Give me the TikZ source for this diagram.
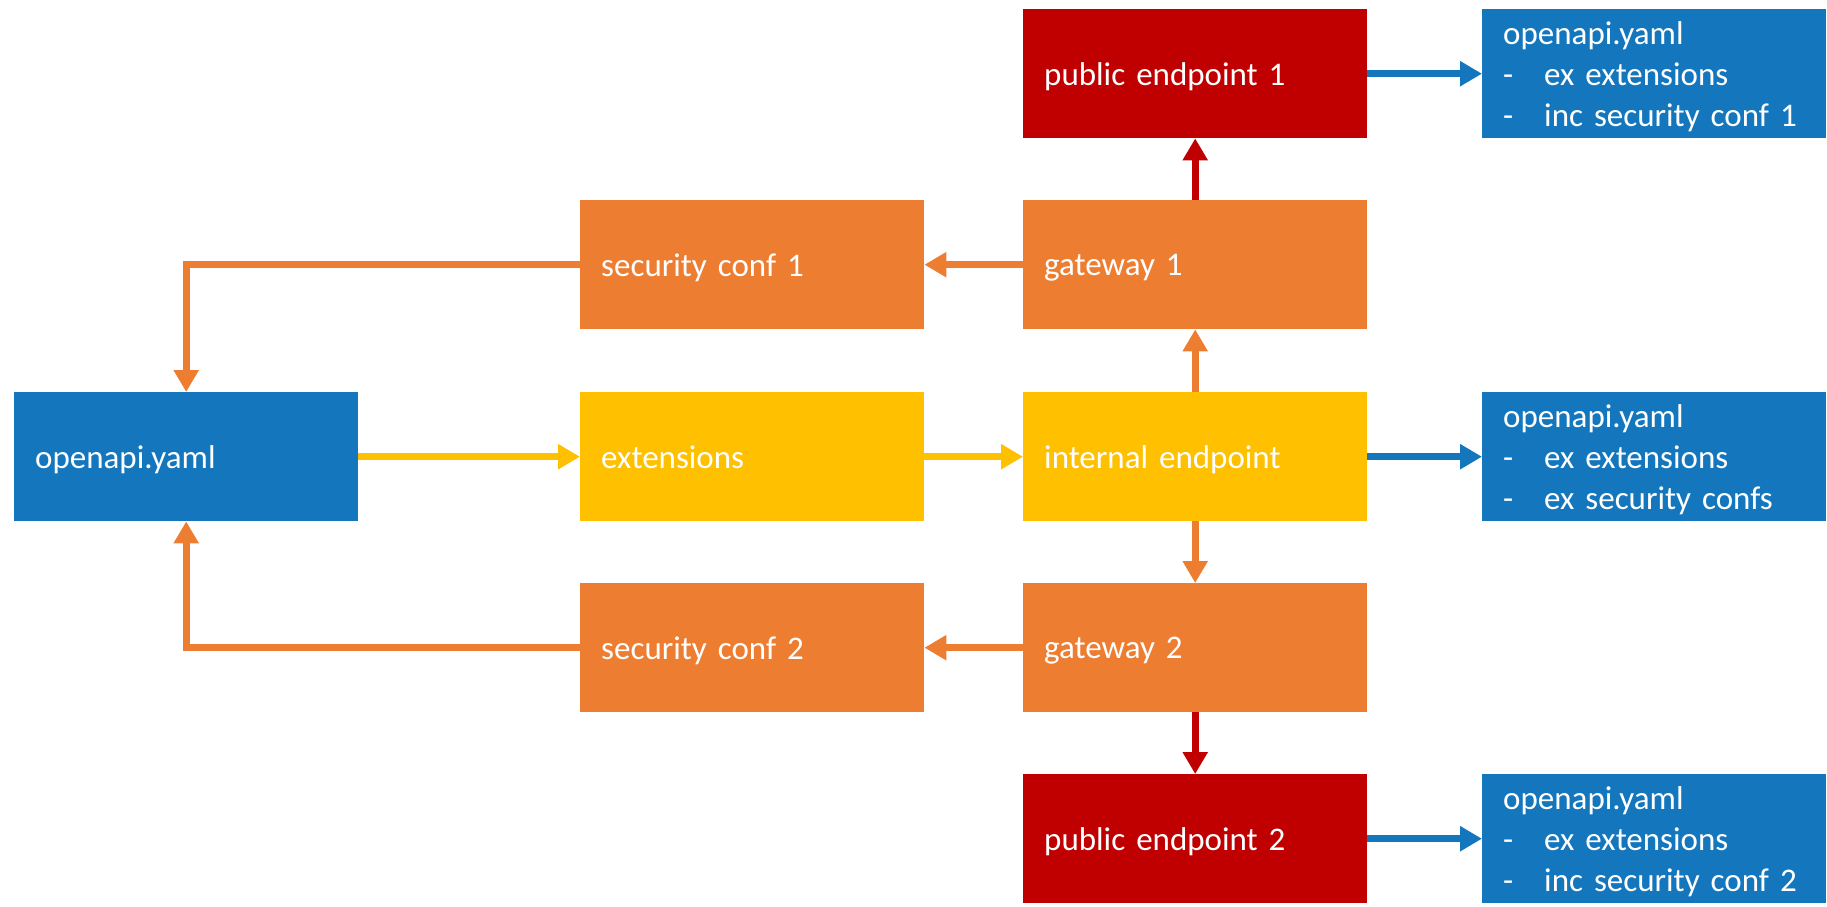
\documentclass[tikz,border=0pt]{standalone}
\usepackage{fontspec}
\setmainfont{Carlito}
\usetikzlibrary{arrows.meta}
\definecolor{oablue}{RGB}{20,119,190}
\definecolor{oaorange}{RGB}{237,125,49}
\definecolor{oayellow}{RGB}{255,192,0}
\definecolor{oared}{RGB}{192,0,0}

\tikzset{
  blk/.style={fill=#1, text=white, anchor=north west, minimum height=129pt,
    text width=302pt, inner xsep=21pt, inner ysep=0pt, align=left,
    text depth=0pt, font=\fontsize{33}{41}\selectfont},
  spec/.style={blk=oablue, text depth=82pt},
  link/.style={draw=#1, line width=7pt, -{Triangle[length=22pt,width=24pt]}},
}
\newcommand{\itm}[1]{\makebox[41pt][l]{-}#1}

\begin{document}
\begin{tikzpicture}[x=1pt,y=-1pt]
  % columns and rows (pixel units, y downwards)
  \def\cA{14}  \def\cB{580}  \def\cC{1023} \def\cD{1482}
  \def\rA{9}   \def\rB{200}  \def\rC{392}  \def\rD{583}  \def\rE{774}

  \useasboundingbox (0,0) rectangle (1827,906);

  % source and generated specs
  \node[blk=oablue] (oa) at (\cA,\rC) {openapi.yaml};
  \node[spec] (oaT) at (\cD,\rA) {openapi.yaml\\\itm{ex extensions}\\\itm{inc security conf 1}};
  \node[spec] (oaM) at (\cD,\rC) {openapi.yaml\\\itm{ex extensions}\\\itm{ex security confs}};
  \node[spec] (oaB) at (\cD,\rE) {openapi.yaml\\\itm{ex extensions}\\\itm{inc security conf 2}};

  % middle row
  \node[blk=oayellow] (ext) at (\cB,\rC) {extensions};
  \node[blk=oayellow] (int) at (\cC,\rC) {internal endpoint};

  % gateways and their security confs
  \node[blk=oaorange] (sc1) at (\cB,\rB) {security conf 1};
  \node[blk=oaorange] (gw1) at (\cC,\rB) {gateway 1};
  \node[blk=oaorange] (sc2) at (\cB,\rD) {security conf 2};
  \node[blk=oaorange] (gw2) at (\cC,\rD) {gateway 2};

  % public endpoints
  \node[blk=oared] (pub1) at (\cC,\rA) {public endpoint 1};
  \node[blk=oared] (pub2) at (\cC,\rE) {public endpoint 2};

  % connectors
  \draw[link=oayellow] (oa.east) -- (ext.west);
  \draw[link=oayellow] (ext.east) -- (int.west);
  \draw[link=oablue] (int.east) -- (oaM.west);
  \draw[link=oaorange] (int.north) -- (gw1.south);
  \draw[link=oaorange] (int.south) -- (gw2.north);
  \draw[link=oaorange] (gw1.west) -- (sc1.east);
  \draw[link=oaorange] (gw2.west) -- (sc2.east);
  \draw[link=oared] (gw1.north) -- (pub1.south);
  \draw[link=oared] (gw2.south) -- (pub2.north);
  \draw[link=oablue] (pub1.east) -- (oaT.west);
  \draw[link=oablue] (pub2.east) -- (oaB.west);
  \draw[link=oaorange] (sc1.west) -| (oa.north);
  \draw[link=oaorange] (sc2.west) -| (oa.south);
\end{tikzpicture}
\end{document}
